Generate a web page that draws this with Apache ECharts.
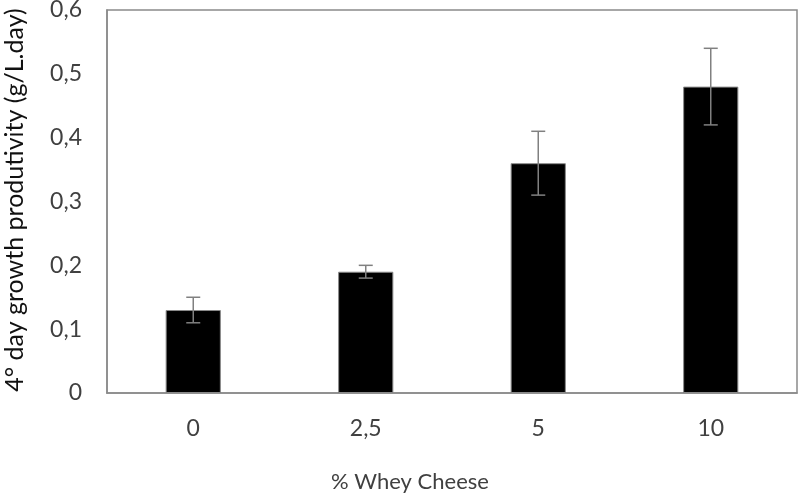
<!DOCTYPE html>
<html><head><meta charset="utf-8">
<script src="https://cdn.jsdelivr.net/npm/echarts@6/dist/echarts.min.js"></script>
<style>html,body{margin:0;padding:0;background:#fff}#c{width:800px;height:494px}</style>
</head><body><div id="c"></div>
<script>
const categories = ['0', '2,5', '5', '10'];
const values = [0.13, 0.19, 0.36, 0.48];
const errLow = [0.11, 0.18, 0.31, 0.42];
const errHigh = [0.15, 0.20, 0.41, 0.54];
const yTicks = [0, 0.1, 0.2, 0.3, 0.4, 0.5, 0.6];

const chart = echarts.init(document.getElementById('c'));
const font = 'Lato, "Open Sans", sans-serif';
chart.setOption({
  animation: false,
  grid: {left: 107, right: 3, top: 10, bottom: 101, show: true, borderColor: '#8a8a8a', borderWidth: 1.5, backgroundColor: '#fff',
    containLabel: false, outerBoundsMode: 'none'},
  xAxis: {
    type: 'category', data: categories,
    name: '% Whey Cheese', nameLocation: 'middle', nameGap: 78,
    nameTextStyle: {fontFamily: font, fontSize: 22, color: '#404040', padding: [0, 84, 0, 0]},
    axisLine: {lineStyle: {color: '#8a8a8a', width: 1.5}},
    axisTick: {show: false},
    axisLabel: {fontFamily: font, fontSize: 23, color: '#404040', margin: 24}
  },
  yAxis: {
    type: 'value', min: 0, max: 0.6, interval: 0.1,
    name: '4° day growth produtivity (g/L.day)', nameLocation: 'middle', nameGap: 80,
    nameTextStyle: {fontFamily: font, fontSize: 25, color: '#111', padding: [0, 0, 0, 3]},
    axisLine: {show: true, lineStyle: {color: '#8a8a8a', width: 1.5}},
    axisTick: {show: false},
    splitLine: {show: false},
    axisLabel: {fontFamily: font, fontSize: 23, color: '#404040', margin: 25,
      formatter: v => { const t = yTicks.find(x => Math.abs(x - v) < 1e-9); return t === 0 ? '0' : String(+v.toFixed(1)).replace('.', ','); }}
  },
  series: [
    {type: 'bar', data: values, barWidth: '32%',
      itemStyle: {color: '#000', borderColor: '#8a8a8a', borderWidth: 1}},
    {type: 'custom', data: categories.map((c, i) => [i, errLow[i], errHigh[i]]),
      renderItem: (params, api) => {
        const lo = api.coord([api.value(0), api.value(1)]);
        const hi = api.coord([api.value(0), api.value(2)]);
        const w = 7;
        const st = {stroke: '#808080', lineWidth: 1.5};
        return {type: 'group', children: [
          {type: 'line', shape: {x1: hi[0], y1: hi[1], x2: lo[0], y2: lo[1]}, style: st},
          {type: 'line', shape: {x1: hi[0]-w, y1: hi[1], x2: hi[0]+w, y2: hi[1]}, style: st},
          {type: 'line', shape: {x1: lo[0]-w, y1: lo[1], x2: lo[0]+w, y2: lo[1]}, style: st}
        ]};
      }, z: 5}
  ]
});
</script></body></html>
